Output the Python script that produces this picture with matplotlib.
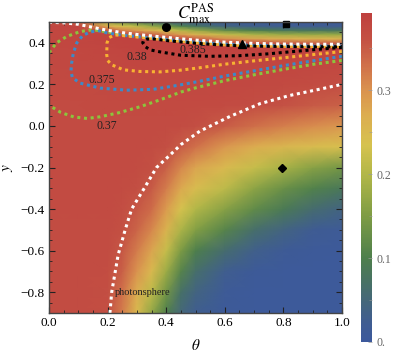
import numpy as np
import matplotlib
matplotlib.use('Agg')
import matplotlib.pyplot as plt
from matplotlib.colors import LinearSegmentedColormap
from matplotlib.ticker import MultipleLocator, FixedLocator

plt.rcParams['font.family'] = ['Liberation Serif', 'DejaVu Serif']
plt.rcParams['mathtext.fontset'] = 'stix'

# ---------------- data ----------------
theta_grid = [0.0, 0.1, 0.2, 0.25, 0.3, 0.35, 0.4, 0.45, 0.5, 0.6, 0.7, 0.8, 0.9, 1.0]
y_grid = [-0.9, -0.8, -0.7, -0.6, -0.5, -0.4, -0.3, -0.2, -0.1, 0.0, 0.1, 0.2, 0.3,
          0.36, 0.38, 0.40, 0.42, 0.44, 0.46, 0.48, 0.50]
c_rows = [
    [0.370, 0.370, 0.365, 0.320, 0.250, 0.170, 0.100, 0.050, 0.025, 0.010, 0.005, 0.005, 0.005, 0.005],
    [0.370, 0.370, 0.366, 0.330, 0.270, 0.210, 0.140, 0.070, 0.040, 0.012, 0.005, 0.005, 0.005, 0.005],
    [0.370, 0.370, 0.368, 0.345, 0.300, 0.250, 0.180, 0.110, 0.065, 0.025, 0.010, 0.005, 0.005, 0.005],
    [0.370, 0.370, 0.370, 0.355, 0.320, 0.280, 0.220, 0.150, 0.100, 0.060, 0.030, 0.015, 0.008, 0.005],
    [0.370, 0.370, 0.370, 0.362, 0.340, 0.310, 0.260, 0.195, 0.155, 0.110, 0.065, 0.040, 0.020, 0.012],
    [0.371, 0.371, 0.371, 0.367, 0.355, 0.335, 0.290, 0.235, 0.200, 0.160, 0.120, 0.090, 0.060, 0.040],
    [0.371, 0.371, 0.371, 0.370, 0.365, 0.352, 0.320, 0.275, 0.245, 0.210, 0.165, 0.130, 0.105, 0.085],
    [0.371, 0.371, 0.371, 0.371, 0.370, 0.364, 0.345, 0.310, 0.280, 0.250, 0.220, 0.190, 0.160, 0.140],
    [0.371, 0.371, 0.371, 0.371, 0.371, 0.370, 0.365, 0.350, 0.330, 0.295, 0.270, 0.255, 0.245, 0.240],
    [0.371, 0.371, 0.371, 0.371, 0.371, 0.371, 0.371, 0.370, 0.366, 0.350, 0.332, 0.318, 0.305, 0.295],
    [0.372, 0.372, 0.373, 0.373, 0.373, 0.373, 0.373, 0.373, 0.373, 0.371, 0.368, 0.360, 0.352, 0.345],
    [0.374, 0.375, 0.376, 0.376, 0.376, 0.377, 0.377, 0.377, 0.377, 0.377, 0.376, 0.373, 0.370, 0.366],
    [0.376, 0.377, 0.378, 0.379, 0.380, 0.381, 0.381, 0.381, 0.381, 0.381, 0.381, 0.380, 0.379, 0.378],
    [0.377, 0.378, 0.380, 0.381, 0.383, 0.385, 0.386, 0.386, 0.386, 0.386, 0.386, 0.385, 0.384, 0.383],
    [0.377, 0.379, 0.381, 0.383, 0.385, 0.387, 0.388, 0.388, 0.388, 0.388, 0.388, 0.387, 0.386, 0.386],
    [0.377, 0.379, 0.382, 0.384, 0.386, 0.387, 0.388, 0.388, 0.387, 0.385, 0.370, 0.350, 0.345, 0.345],
    [0.378, 0.380, 0.383, 0.385, 0.386, 0.387, 0.386, 0.375, 0.350, 0.305, 0.280, 0.265, 0.260, 0.260],
    [0.378, 0.380, 0.384, 0.383, 0.372, 0.350, 0.320, 0.290, 0.262, 0.220, 0.195, 0.180, 0.175, 0.175],
    [0.379, 0.381, 0.360, 0.320, 0.290, 0.262, 0.235, 0.205, 0.175, 0.125, 0.100, 0.085, 0.080, 0.080],
    [0.380, 0.382, 0.270, 0.235, 0.210, 0.175, 0.140, 0.105, 0.080, 0.045, 0.032, 0.025, 0.024, 0.024],
    [0.370, 0.340, 0.185, 0.140, 0.110, 0.080, 0.055, 0.038, 0.025, 0.016, 0.012, 0.010, 0.010, 0.010],
]

# contour 0.37 (green), two pieces
green_lo_theta = [1.0, 0.9, 0.8, 0.7, 0.6, 0.5, 0.45, 0.38, 0.31, 0.24, 0.175, 0.13, 0.085, 0.04, 0.0]
green_lo_y = [0.315, 0.296, 0.272, 0.246, 0.218, 0.183, 0.163, 0.126, 0.092, 0.064, 0.044, 0.036, 0.043, 0.065, 0.10]
green_up_theta = [0.0, 0.026, 0.06, 0.106, 0.151, 0.2, 0.25, 0.3, 0.35, 0.4, 0.45, 0.5, 0.6, 0.7, 0.8, 0.9, 1.0]
green_up_y = [0.353, 0.40, 0.43, 0.454, 0.463, 0.452, 0.442, 0.434, 0.427, 0.42, 0.413, 0.407, 0.397, 0.391, 0.389, 0.388, 0.388]
# contour 0.375 (blue)
blue_theta = [1.0, 0.9, 0.8, 0.7, 0.6, 0.515, 0.447, 0.356, 0.265, 0.174, 0.106, 0.08, 0.075, 0.077, 0.083,
              0.095, 0.115, 0.14, 0.17, 0.2, 0.25, 0.3, 0.35, 0.4, 0.45, 0.5, 0.6, 0.7, 0.8, 0.9, 1.0]
blue_y = [0.335, 0.313, 0.29, 0.265, 0.24, 0.215, 0.197, 0.176, 0.172, 0.182, 0.206, 0.232, 0.262, 0.30, 0.35,
          0.40, 0.435, 0.452, 0.458, 0.447, 0.437, 0.430, 0.423, 0.416, 0.409, 0.403, 0.393, 0.387, 0.385, 0.384, 0.384]
# contour 0.38 (orange)
orange_theta = [1.0, 0.9, 0.8, 0.7, 0.6, 0.515, 0.447, 0.379, 0.31, 0.254, 0.214, 0.2, 0.197, 0.198, 0.205,
                0.225, 0.25, 0.3, 0.35, 0.4, 0.45, 0.5, 0.6, 0.7, 0.8, 0.9, 1.0]
orange_y = [0.358, 0.343, 0.328, 0.313, 0.297, 0.28, 0.268, 0.26, 0.262, 0.27, 0.294, 0.315, 0.342, 0.40, 0.425,
            0.438, 0.435, 0.428, 0.421, 0.414, 0.407, 0.400, 0.390, 0.385, 0.383, 0.382, 0.382]
# contour 0.385 (black)
black_theta = [1.0, 0.93, 0.85, 0.75, 0.65, 0.55, 0.45, 0.38, 0.345, 0.33, 0.32, 0.322, 0.335, 0.36, 0.4,
               0.45, 0.5, 0.6, 0.7, 0.8, 0.9, 1.0]
black_y = [0.378, 0.37, 0.36, 0.347, 0.338, 0.335, 0.34, 0.356, 0.366, 0.38, 0.40, 0.41, 0.418, 0.418, 0.411,
           0.404, 0.398, 0.388, 0.384, 0.382, 0.381, 0.381]
# upper boundary (white dotted)
top_theta = [0.0, 0.05, 0.1, 0.15, 0.2, 0.25, 0.3, 0.35, 0.4, 0.45, 0.5, 0.6, 0.7, 0.8, 0.9, 1.0]
top_y = [0.499, 0.496, 0.489, 0.474, 0.46, 0.449, 0.44, 0.433, 0.426, 0.419, 0.413, 0.403, 0.397, 0.394, 0.393, 0.393]
# photonsphere (white dotted)
photon_theta = [0.208, 0.214, 0.236, 0.26, 0.282, 0.325, 0.367, 0.413, 0.45, 0.515, 0.618, 0.72, 0.823, 0.925, 1.0]
photon_y = [-0.9, -0.8, -0.62, -0.5, -0.4, -0.3, -0.2, -0.14, -0.09, -0.025, 0.046, 0.107, 0.147, 0.177, 0.2]

contour_labels = ['0.37', '0.375', '0.38', '0.385']
contour_label_theta = [0.197, 0.18, 0.30, 0.49]
contour_label_y = [-0.002, 0.222, 0.334, 0.364]

circle_pt = (0.398, 0.477)
square_pt = (0.808, 0.490)
triangle_pt = (0.658, 0.393)
diamond_pt = (0.795, -0.200)

cbar_ticks = [0.0, 0.1, 0.2, 0.3]
cbar_ticklabels = ['0.', '0.1', '0.2', '0.3']
vmax = 0.392

# ---------------- colormap ----------------
cmap = LinearSegmentedColormap.from_list('mma', [
    (0.000, '#3C599C'), (0.051, '#3F5C93'), (0.128, '#456878'), (0.19, '#487362'),
    (0.255, '#4E7F4C'), (0.383, '#7E9C44'), (0.51, '#B2B748'), (0.60, '#D6C24E'),
    (0.69, '#DCAD50'), (0.765, '#DA934F'), (0.84, '#D0714A'), (0.918, '#C45244'),
    (1.0, '#BF403E')])

W, H = 395, 364
fig = plt.figure(figsize=(W / 100, H / 100), dpi=100)
ax = fig.add_axes([49 / W, 1 - 313 / H, (342 - 49) / W, (313 - 22) / H])
cax = fig.add_axes([361 / W, 1 - 342 / H, 11 / W, (342 - 13) / H])

T, Y = np.meshgrid(theta_grid, y_grid)
Z = np.array(c_rows)
mesh = ax.pcolormesh(T, Y, Z, shading='gouraud', cmap=cmap, vmin=0, vmax=vmax, rasterized=True)

dot = dict(lw=2.2, ls=(0, (1.0, 1.2)), dash_capstyle='butt', solid_capstyle='butt')
ax.plot(green_lo_theta, green_lo_y, color='#8CC43C', **dot)
ax.plot(green_up_theta, green_up_y, color='#8CC43C', **dot)
ax.plot(blue_theta, blue_y, color='#3C8AC8', **dot)
ax.plot(orange_theta, orange_y, color='#F8B232', **dot)
ax.plot(black_theta, black_y, color='black', **dot)
ax.plot(top_theta, top_y, color='white', **dot)
ax.plot(photon_theta, photon_y, color='white', **dot)

for lab, tx, ty in zip(contour_labels, contour_label_theta, contour_label_y):
    ax.text(tx, ty, lab, fontsize=8.5, ha='center', va='center', color='#222222')
ax.text(0.225, -0.80, 'photonsphere', fontsize=7.5, ha='left', va='center', color='#222222')

ax.plot(*circle_pt, 'o', color='black', ms=5.5, clip_on=False)
ax.plot(*square_pt, 's', color='black', ms=5, clip_on=False)
ax.plot(*triangle_pt, '^', color='black', ms=6, clip_on=False)
ax.plot(*diamond_pt, 'D', color='black', ms=4.5, clip_on=False)

ax.set_xlim(0, 1)
ax.set_ylim(-0.9, 0.5)
ax.xaxis.set_major_locator(MultipleLocator(0.2))
ax.xaxis.set_minor_locator(MultipleLocator(0.05))
ax.yaxis.set_major_locator(FixedLocator([-0.8, -0.6, -0.4, -0.2, 0.0, 0.2, 0.4]))
ax.yaxis.set_minor_locator(MultipleLocator(0.05))
ax.xaxis.set_major_formatter(plt.FuncFormatter(lambda v, p: f'{v:.1f}'))
ax.yaxis.set_major_formatter(plt.FuncFormatter(lambda v, p: f'{v:.1f}'.replace('-', '\u2212')))
ax.tick_params(which='both', direction='in', top=True, right=True, color='#222222')
ax.tick_params(which='major', length=4, width=0.8, labelsize=9.5, pad=3)
ax.tick_params(which='minor', length=2, width=0.6)
for s in ax.spines.values():
    s.set_color('#444444')
    s.set_linewidth(1.0)
ax.set_xlabel(r'$\theta$', fontsize=11, labelpad=6)
ax.set_ylabel(r'$y$', fontsize=11, labelpad=4)

cb = fig.colorbar(mesh, cax=cax)
cb.outline.set_visible(False)
cb.set_ticks(cbar_ticks)
cb.set_ticklabels(cbar_ticklabels)
cax.yaxis.set_minor_locator(MultipleLocator(0.05))
cax.tick_params(which='both', direction='in', color='#999999', labelcolor='#666666', labelsize=8.5, pad=3)
cax.tick_params(which='major', length=3, width=0.5)
cax.tick_params(which='minor', length=2, width=0.4)

fig.text(0.494, 0.962, r'$C^{\mathrm{PAS}}_{\mathrm{max}}$', fontsize=12.5, ha='center', va='center')

fig.savefig('out.png', dpi=100)
